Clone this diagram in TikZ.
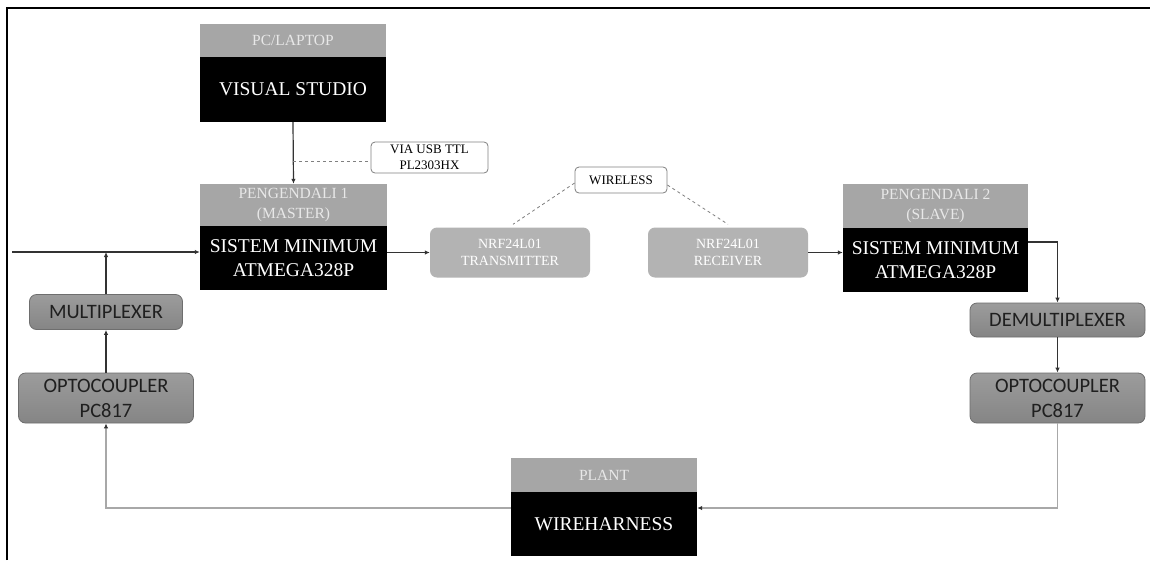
\documentclass[tikz,border=0pt]{standalone}
\usepackage{fontspec}
\setmainfont{Liberation Serif}
\newfontfamily\tms{Liberation Serif}
\newfontfamily\calib{Carlito}
\usetikzlibrary{arrows.meta}
\definecolor{hdrgray}{HTML}{A6A6A6}
\definecolor{hdrtext}{HTML}{E8E8E8}
\definecolor{nrfgray}{HTML}{B3B3B3}
\definecolor{muxtop}{HTML}{9C9C9C}
\definecolor{muxbot}{HTML}{858585}
\definecolor{muxedge}{HTML}{6E6E6E}
\definecolor{linedark}{HTML}{333333}
\definecolor{linelight}{HTML}{A8A8A8}
\begin{document}
\begin{tikzpicture}[x=1pt,y=-1pt,
  hdr/.style={fill=hdrgray,text=hdrtext,inner sep=0pt,align=center,font=\tms\fontsize{15.5}{20}\selectfont},
  blk/.style={fill=black,text=white,inner sep=0pt,align=center,font=\tms\fontsize{19.5}{24}\selectfont},
  nrf/.style={fill=nrfgray,text=white,rounded corners=7pt,inner sep=0pt,align=center,minimum width=160,minimum height=50,font=\tms\fontsize{14}{17}\selectfont},
  note/.style={draw=gray,line width=0.8pt,fill=white,rounded corners=4pt,inner sep=0pt,align=center,font=\tms\fontsize{13}{15.5}\selectfont},
  mux/.style={draw=muxedge,line width=0.8pt,top color=muxtop,bottom color=muxbot,rounded corners=7pt,inner sep=0pt,align=center,text=black!88,font=\calib\fontsize{20.5}{25}\selectfont},
  arr/.style={draw=linedark,line width=1.2pt,-{Latex[length=5pt,width=4.5pt]}},
  larr/.style={draw=linelight,line width=1.3pt,-{Latex[length=5pt,width=4.5pt,fill=black!80,color=black!80]}},
  dsh/.style={draw=gray,line width=0.8pt,dashed}]
\useasboundingbox (0,0) rectangle (1150,560);
\fill[white] (0,0) rectangle (1150,560);
% frame (top and left edges)
\draw[line width=1.4pt] (7,560) -- (7,8) -- (1150,8);

% PC / Laptop
\node[hdr,minimum width=186,minimum height=33] (pc) at (293,40.5) {PC/LAPTOP};
\node[blk,minimum width=186,minimum height=65] (vs) at (293,89.5) {VISUAL STUDIO};
\node[note,minimum width=117,minimum height=31] (via) at (429.5,157.5) {VIA USB TTL\\PL2303HX};

% Master
\node[hdr,minimum width=187,minimum height=42] (mhdr) at (293.5,205) {PENGENDALI 1\\(MASTER)};
\node[blk,minimum width=187,minimum height=64] (mblk) at (293.5,258) {SISTEM MINIMUM\\ATMEGA328P};

% NRF modules
\node[nrf] (tx) at (510,252.5) {NRF24L01\\TRANSMITTER};
\node[nrf] (rx) at (728,252.5) {NRF24L01\\RECEIVER};
\node[note,minimum width=92,minimum height=26] (wl) at (621,180) {WIRELESS};

% Slave
\node[hdr,minimum width=185,minimum height=44] (shdr) at (935.5,206) {PENGENDALI 2\\(SLAVE)};
\node[blk,minimum width=185,minimum height=64] (sblk) at (935.5,260) {SISTEM MINIMUM\\ATMEGA328P};

% Right chain
\node[mux,minimum width=175,minimum height=34] (demux) at (1057.5,320) {DEMULTIPLEXER};
\node[mux,minimum width=175,minimum height=50] (optoR) at (1057.5,398) {OPTOCOUPLER\\PC817};

% Left chain
\node[mux,minimum width=153,minimum height=35] (mux) at (106,312) {MULTIPLEXER};
\node[mux,minimum width=175,minimum height=50] (optoL) at (106,398) {OPTOCOUPLER\\PC817};

% Plant
\node[hdr,minimum width=186,minimum height=34] (phdr) at (604,475) {PLANT};
\node[blk,minimum width=186,minimum height=64] (wire) at (604,524) {WIREHARNESS};

\coordinate (in) at (12,252);

% connectors
\draw[arr] (vs.south) -- (mhdr.north);
\draw[dsh] ([yshift=-4pt]vs.south |- via.west) -- ([yshift=-4pt]via.west);
\draw[arr] (in) -- (in -| mblk.west);
\draw[arr] (mux.north) -- (mux.north |- in);
\draw[arr] (optoL.north) -- (mux.south);
\draw[arr] (tx.west -| mblk.east) -- (tx.west);
\draw[dsh] ([yshift=-3pt]wl.west) -- ([xshift=3pt,yshift=3pt]tx.north);
\draw[dsh] ([yshift=-5pt]wl.east) -- ([yshift=3pt]rx.north);
\draw[arr] (rx.east) -- (rx.east -| sblk.west);
\draw[arr] ([yshift=18pt]sblk.east) -| (demux.north);
\draw[arr] (demux.south) -- (optoR.north);
\draw[larr] (optoR.south) |- ([yshift=16pt]wire.east);
\draw[larr] ([yshift=16pt]wire.west) -| (optoL.south);
\end{tikzpicture}
\end{document}
